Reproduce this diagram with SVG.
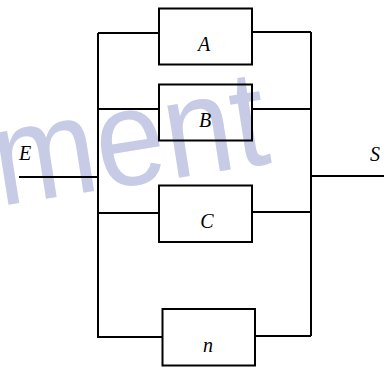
<svg xmlns="http://www.w3.org/2000/svg" width="384" height="367" viewBox="0 0 384 367">
<style>
.w{stroke:#000;stroke-width:2;fill:none}
.box{stroke:#000;stroke-width:2;fill:none}
.lbl{font-family:"Liberation Serif","Times New Roman",serif;font-style:italic;font-size:20px;fill:#000;text-anchor:middle}
.wm{font-family:"Liberation Sans",Arial,sans-serif;font-size:138px;fill:#c8cbe6}
</style>
<rect width="384" height="367" fill="#fff"/>
<text class="wm" x="0" y="0" transform="translate(0,206) rotate(-9) scale(0.9,1)">ment</text>
<g id="connectors">
<path class="w" d="M19,177 H98"/>
<path class="w" d="M311,176 H384"/>
<path class="w" d="M98,33 V337"/>
<path class="w" d="M311,32 V336"/>
<path class="w" d="M98,33 H159"/>
<path class="w" d="M252,32 H311"/>
<path class="w" d="M98,109 H159"/>
<path class="w" d="M252,109 H311"/>
<path class="w" d="M98,213 H159"/>
<path class="w" d="M252,212 H311"/>
<path class="w" d="M97,337 H162"/>
<path class="w" d="M255,336 H311"/>
</g>
<g id="A"><rect class="box" x="159" y="8.5" width="93" height="56"/><text class="lbl" x="204" y="51">A</text></g>
<g id="B"><rect class="box" x="159" y="84.5" width="93" height="56"/><text class="lbl" x="205" y="127">B</text></g>
<g id="C"><rect class="box" x="159" y="185.5" width="93" height="56.5"/><text class="lbl" x="207" y="228">C</text></g>
<g id="n"><rect class="box" x="162.5" y="309" width="92.5" height="56.5"/><text class="lbl" x="208" y="352">n</text></g>
<g id="E"><text class="lbl" x="25" y="160">E</text></g>
<g id="S"><text class="lbl" x="375" y="161">S</text></g>
</svg>
